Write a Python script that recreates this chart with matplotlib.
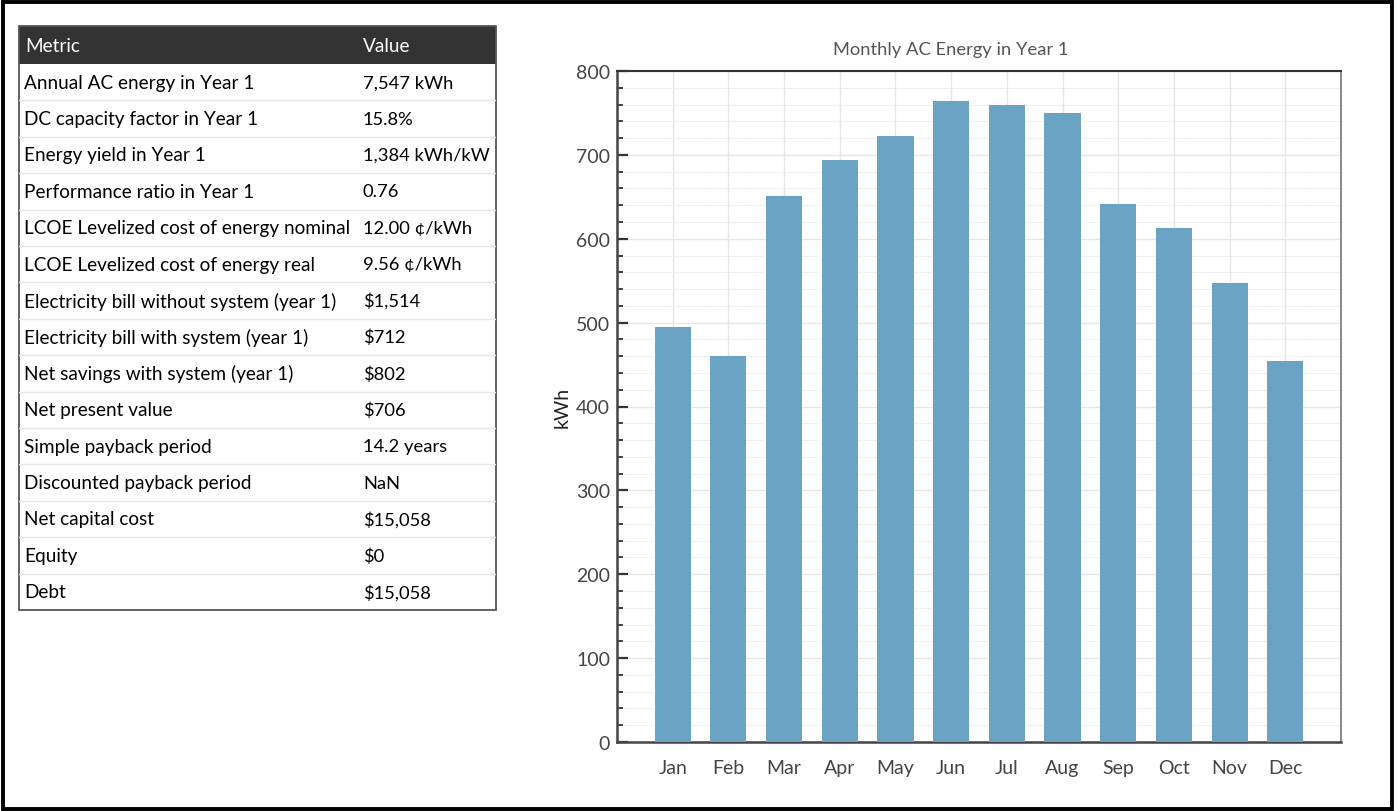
import matplotlib
matplotlib.use("Agg")
import matplotlib.pyplot as plt
from matplotlib.patches import Rectangle
from matplotlib.ticker import MultipleLocator

plt.rcParams['font.family'] = ['Lato', 'DejaVu Sans']

# table data
metrics = [
    "Annual AC energy in Year 1",
    "DC capacity factor in Year 1",
    "Energy yield in Year 1",
    "Performance ratio in Year 1",
    "LCOE Levelized cost of energy nominal",
    "LCOE Levelized cost of energy real",
    "Electricity bill without system (year 1)",
    "Electricity bill with system (year 1)",
    "Net savings with system (year 1)",
    "Net present value",
    "Simple payback period",
    "Discounted payback period",
    "Net capital cost",
    "Equity",
    "Debt",
]
values = [
    "7,547 kWh", "15.8%", "1,384 kWh/kW", "0.76", "12.00 \u00a2/kWh",
    "9.56 \u00a2/kWh", "$1,514", "$712", "$802", "$706", "14.2 years",
    "NaN", "$15,058", "$0", "$15,058",
]

# monthly chart data
months = ["Jan", "Feb", "Mar", "Apr", "May", "Jun",
          "Jul", "Aug", "Sep", "Oct", "Nov", "Dec"]
energy = [495, 460, 651, 694, 722, 764, 759, 750, 642, 613, 547, 454]

W, H = 1397, 812
fig = plt.figure(figsize=(W / 100, H / 100), dpi=100)

# outer frame
fig.patches.append(Rectangle((2.5 / W, 2.5 / H), (W - 8) / W, (H - 5) / H,
                             transform=fig.transFigure, fill=False,
                             edgecolor="black", linewidth=2.8))

# ---- table ----
tx0, ty0, tx1, ty1 = 19, 27, 496, 611
tab = fig.add_axes([tx0 / W, 1 - ty1 / H, (tx1 - tx0) / W, (ty1 - ty0) / H])
tw, th = tx1 - tx0, ty1 - ty0
tab.set_xlim(0, tw)
tab.set_ylim(th, 0)
tab.axis("off")

head_h = 38
row_h = (th - head_h) / len(metrics)
val_x = 344
fs = 13.7
fs_val = 13.2
tab.add_patch(Rectangle((0, 0), tw, head_h, facecolor="#333333", edgecolor="none"))
tab.text(6, head_h / 2 + 1, "Metric", color="white", fontsize=fs, va="center")
tab.text(val_x, head_h / 2 + 1, "Value", color="white", fontsize=fs, va="center")
for i, (m, v) in enumerate(zip(metrics, values)):
    yc = head_h + row_h * (i + 0.5)
    tab.text(5, yc, m, fontsize=fs, va="center", color="black")
    tab.text(val_x, yc, v, fontsize=fs_val, va="center", color="black")
    if i < len(metrics) - 1:
        tab.plot([0, tw], [head_h + row_h * (i + 1)] * 2, color="#e6e6e6", lw=1)
tab.add_patch(Rectangle((0, 0), tw, th, fill=False, edgecolor="#555555", lw=1.3, clip_on=False))

# ---- bar chart ----
ax = fig.add_axes([617 / W, 1 - 743 / H, (1341 - 617) / W, (743 - 72) / H])
x = list(range(len(months)))
ax.bar(x, energy, width=0.65, color="#6ba3c5", zorder=3)
ax.set_xlim(-1, 12)
ax.set_ylim(0, 800)
ax.set_xticks(x)
ax.set_xticklabels(months)
ax.yaxis.set_major_locator(MultipleLocator(100))
ax.yaxis.set_minor_locator(MultipleLocator(20))
ax.grid(True, which="major", color="#e6e6e6", lw=1, zorder=0)
ax.grid(True, which="minor", axis="y", color="#e3e3e3", lw=0.8, ls=(0, (1, 1)), zorder=0)
ax.tick_params(axis="both", which="major", direction="in", length=8, width=1.6,
               color="#333333", labelcolor="#444444", labelsize=14)
ax.tick_params(axis="x", which="major", pad=12)
ax.tick_params(axis="y", which="major", pad=5)
ax.tick_params(axis="y", which="minor", direction="in", length=4, width=1.3, color="#333333")
ax.tick_params(axis="x", which="minor", bottom=False)
ax.set_ylabel("kWh", fontsize=14, color="#222222", labelpad=4)
fig.text(951 / W, 1 - 50 / H, "Monthly AC Energy in Year 1", fontsize=13.2,
         color="#555555", ha="center", va="center")
for s in ("left", "bottom"):
    ax.spines[s].set_color("#444444")
    ax.spines[s].set_linewidth(1.8)
ax.spines["top"].set_color("#333333")
ax.spines["top"].set_linewidth(1.5)
ax.spines["right"].set_color("#777777")
ax.spines["right"].set_linewidth(1.2)

fig.savefig("out.png", dpi=100)
